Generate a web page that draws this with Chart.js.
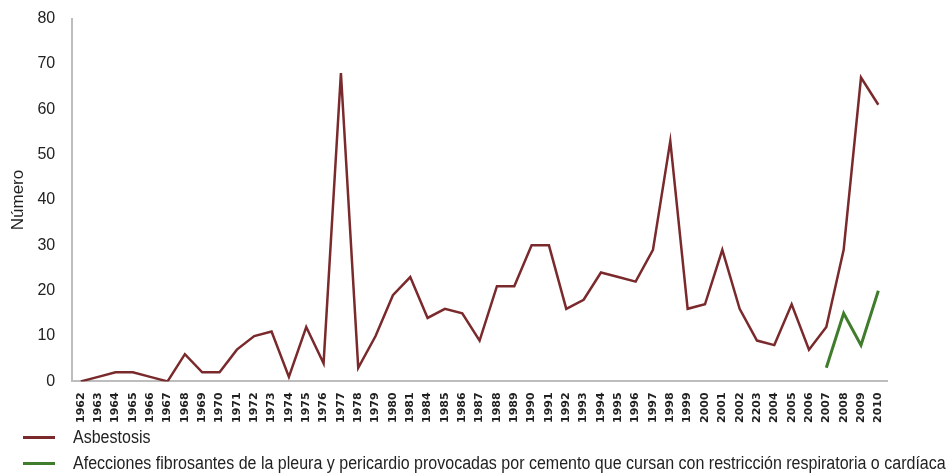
<!DOCTYPE html>
<html>
<head>
<meta charset="utf-8">
<script src="https://cdn.jsdelivr.net/npm/chart.js@4/dist/chart.umd.min.js"></script>
<style>
  html, body { margin: 0; padding: 0; background: #fff; }
  #wrap { width: 949px; height: 474px; position: relative; }
  .legend-item { position: absolute; left: 23px; height: 20px; display: flex; align-items: center; white-space: nowrap; }
  .legend-item i { display: inline-block; width: 32px; height: 3px; margin-right: 18px; }
  .legend-item span { font-family: 'Liberation Sans', Arial, sans-serif; font-size: 18px; color: #222;
    display: inline-block; transform: scaleX(0.89); transform-origin: left center; }
</style>
</head>
<body>
<div id="wrap">
  <canvas id="chart"></canvas>
  <div id="legend"></div>
</div>
<script>
// Years as printed on the axis (1982-83 missing, "2203" typo kept)
const years = ['1962','1963','1964','1965','1966','1967','1968','1969','1970','1971',
  '1972','1973','1974','1975','1976','1977','1978','1979','1980','1981',
  '1984','1985','1986','1987','1988','1989','1990','1991','1992','1993',
  '1994','1995','1996','1997','1998','1999','2000','2001','2002','2203',
  '2004','2005','2006','2007','2008','2009','2010'];

const asbestosis = [0, 1, 2, 2, 1, 0, 6, 2, 2, 7,
  10, 11, 1, 12, 4, 68, 3, 10, 19, 23,
  14, 16, 15, 9, 21, 21, 30, 30, 16, 18,
  24, 23, 22, 29, 53, 16, 17, 29, 16, 9,
  8, 17, 7, 12, 29, 67, 61];

// only reported from 2007 on
const afecciones = [null, null, null, null, null, null, null, null, null, null,
  null, null, null, null, null, null, null, null, null, null,
  null, null, null, null, null, null, null, null, null, null,
  null, null, null, null, null, null, null, null, null, null,
  null, null, null, 3, 15, 8, 20];

const yTicks = [0, 10, 20, 30, 40, 50, 60, 70, 80];

const seriesNames = ['Asbestosis',
  'Afecciones fibrosantes de la pleura y pericardio provocadas por cemento que cursan con restricción respiratoria o cardíaca'];
const seriesColors = ['#7a2a2c', '#3f7d2c'];

const sans = "'Liberation Sans', Arial, sans-serif";

const chart = new Chart(document.getElementById('chart'), {
  type: 'line',
  data: {
    labels: years,
    datasets: [{
      label: seriesNames[0],
      data: asbestosis,
      borderColor: seriesColors[0],
      borderWidth: 2.5,
      pointRadius: 0,
      tension: 0
    }, {
      label: seriesNames[1],
      data: afecciones,
      borderColor: seriesColors[1],
      borderWidth: 3,
      pointRadius: 0,
      tension: 0
    }]
  },
  options: {
    responsive: true,
    maintainAspectRatio: false,
    animation: false,
    layout: { padding: { left: 8, right: 62, top: 3, bottom: 48 } },
    plugins: {
      tooltip: { enabled: false },
      legend: { display: false }
    },
    scales: {
      x: {
        offset: true,
        grid: { display: false },
        border: { color: '#bdbdbd', width: 2 },
        ticks: {
          color: '#222',
          autoSkip: false,
          minRotation: 90,
          maxRotation: 90,
          font: { family: "'DejaVu Sans', Verdana, sans-serif", size: 11, weight: 'bold' }
        }
      },
      y: {
        min: 0,
        max: 80,
        afterBuildTicks: axis => { axis.ticks = yTicks.map(v => ({ value: v })); },
        grid: { display: false },
        border: { color: '#bdbdbd', width: 2 },
        ticks: {
          color: '#222',
          padding: 9,
          font: { family: sans, size: 16 }
        },
        title: {
          display: true,
          text: 'Número',
          color: '#222',
          padding: 0,
          font: { family: sans, size: 17 }
        }
      }
    }
  }
});

// HTML legend, stacked like the original
const legend = document.getElementById('legend');
seriesNames.forEach((name, i) => {
  legend.innerHTML += `<div class="legend-item" style="top:${427 + i * 26}px">
    <i style="background:${seriesColors[i]}"></i><span>${name}</span></div>`;
});
</script>
</body>
</html>
